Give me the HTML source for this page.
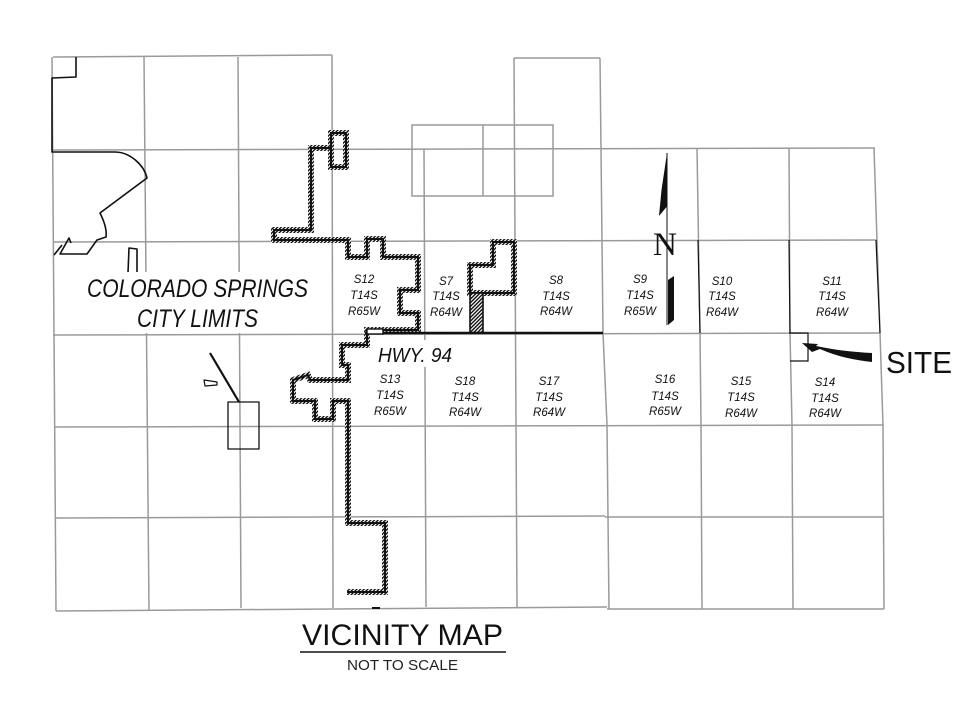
<!DOCTYPE html>
<html><head><meta charset="utf-8"><style>
html,body{margin:0;padding:0;background:#fff;}
svg{display:block;}
text{font-family:"Liberation Sans",sans-serif;}
.s{font-style:italic;font-size:11.5px;fill:#111;text-anchor:middle;}
</style></head><body>
<svg width="973" height="716" viewBox="0 0 973 716" xmlns="http://www.w3.org/2000/svg">
<defs>
<pattern id="h" width="2.6" height="2.6" patternUnits="userSpaceOnUse" patternTransform="rotate(45)">
<rect width="2.6" height="2.6" fill="#fff"/><line x1="0.7" y1="0" x2="0.7" y2="2.6" stroke="#111" stroke-width="1.4"/>
</pattern>
</defs>
<rect width="973" height="716" fill="#fff"/>
<g fill="none" stroke="#9a9a9a" stroke-width="1.5">
<line x1="53" y1="57" x2="332" y2="55"/>
<line x1="514" y1="58" x2="600" y2="58"/>
<line x1="52" y1="150" x2="875" y2="148"/>
<line x1="53" y1="242" x2="877" y2="240"/>
<line x1="53" y1="335" x2="880" y2="333"/>
<line x1="54" y1="427" x2="883" y2="425"/>
<line x1="55" y1="518" x2="605" y2="516"/>
<line x1="605" y1="517" x2="883" y2="517"/>
<line x1="56" y1="611" x2="607" y2="607"/>
<line x1="607" y1="609" x2="884" y2="609"/>
<line x1="52" y1="57" x2="56" y2="611"/>
<line x1="144" y1="57" x2="149" y2="610"/>
<line x1="238" y1="57" x2="241" y2="608"/>
<line x1="332" y1="55" x2="333" y2="608"/>
<line x1="424" y1="149" x2="426" y2="607"/>
<line x1="514" y1="58" x2="517" y2="607"/>
<polyline points="600,58 603,333 607,425 609,609"/>
<polyline points="697,148 700,333 701,425 702,609"/>
<polyline points="789,148 790,333 792,425 793,609"/>
<polyline points="874,148 880,333 883,425 884,609"/>
<rect x="412" y="125" width="141" height="71"/>
<line x1="483" y1="125" x2="483" y2="196"/>
</g>
<g stroke="#111" stroke-width="1.2" fill="none">
<line x1="698" y1="240" x2="700" y2="333"/>
<line x1="789" y1="240" x2="790" y2="333"/>
<line x1="876" y1="240" x2="880" y2="333"/>
<polyline points="789,333 808,333 808,361 790,361"/>
</g>
<g stroke="#111" stroke-width="1.6" fill="none" stroke-linejoin="round">
<polyline points="76,57 76,77 52,78 52,152 115,152"/>
<path d="M115,152 C130,152 144,165 147,178 L100,213 C104,221 107,230 106,237 L97,240 L87,254 L60,254 L69,238 L71,243"/>
<line x1="54" y1="255" x2="62" y2="245"/>
<polyline points="128,273 129,248 137,249 137,273"/>
<line x1="210" y1="353" x2="239" y2="402" stroke-width="2.2"/>
<polygon points="204,380 217,382 217,385 205,386" stroke-width="1.2"/>
<rect x="228" y="402" width="31" height="47" stroke-width="1.3"/>
<line x1="372" y1="608" x2="380" y2="608" stroke-width="2"/>
</g>
<g fill="none" stroke-linejoin="miter">
<path d="M331,148 L331,133 L346,133 L346,167 L331,167 L331,148 L311,148 L311,230 L274,230 L274,240 L348,240 L348,257 L367,257 L367,239 L383,239 L383,257 L418,257 L418,290 L400,290 L400,313 L418,313 L418,330 L367,330 L367,345 L342,345 L342,365 L348,365 L348,380 L310,380 L308,375 L293,380 L293,401 L315,401 L315,419 L333,419 L333,401 L348,401 L348,523 L385,523 L385,592 L347,592" stroke="url(#h)" stroke-width="6"/>
<path d="M331,148 L331,133 L346,133 L346,167 L331,167 L331,148 L311,148 L311,230 L274,230 L274,240 L348,240 L348,257 L367,257 L367,239 L383,239 L383,257 L418,257 L418,290 L400,290 L400,313 L418,313 L418,330 L367,330 L367,345 L342,345 L342,365 L348,365 L348,380 L310,380 L308,375 L293,380 L293,401 L315,401 L315,419 L333,419 L333,401 L348,401 L348,523 L385,523 L385,592 L347,592" stroke="#111" stroke-width="2"/>
<polygon points="493,242 514,242 514,293 470,293 470,265 493,265" stroke="url(#h)" stroke-width="6"/>
<polygon points="493,242 514,242 514,293 470,293 470,265 493,265" stroke="#111" stroke-width="2"/>
<rect x="470" y="293" width="13" height="40" fill="url(#h)" stroke="#111" stroke-width="1.6"/>
</g>
<line x1="365" y1="333" x2="603" y2="333" stroke="#111" stroke-width="2.6"/>
<rect x="367" y="329" width="16" height="5" fill="#fff" stroke="#111" stroke-width="1.4"/>
<line x1="667" y1="153" x2="667" y2="325" stroke="#111" stroke-width="1"/>
<polygon points="667,153 666.5,207 659,216 661.5,190" fill="#111"/>
<polygon points="668,280 674,276 674,320 668,325" fill="#111"/>
<text x="653" y="255" style="font-family:'Liberation Serif',serif" font-size="33" textLength="24" lengthAdjust="spacingAndGlyphs" fill="#111">N</text>
<path d="M872,353 L872,362 C855,360 838,357 820,349 L812,352 L802,343 L818,344 L816,346 C835,350 852,352 872,353 Z" fill="#111"/>
<rect x="84" y="272" width="228" height="61" fill="#fff"/>
<rect x="374" y="340" width="82" height="27" fill="#fff"/>
<text x="87" y="297" font-size="25" font-style="italic" textLength="221" lengthAdjust="spacingAndGlyphs" fill="#111">COLORADO SPRINGS</text>
<text x="137" y="327" font-size="25" font-style="italic" textLength="121" lengthAdjust="spacingAndGlyphs" fill="#111">CITY LIMITS</text>
<text x="378" y="362" font-size="20" font-style="italic" textLength="74" lengthAdjust="spacingAndGlyphs" fill="#111">HWY. 94</text>
<text x="886" y="373" font-size="31" textLength="66" lengthAdjust="spacingAndGlyphs" fill="#111">SITE</text>
<text x="302" y="645" font-size="30" textLength="201" lengthAdjust="spacingAndGlyphs" fill="#111">VICINITY MAP</text>
<line x1="300" y1="652" x2="506" y2="652" stroke="#111" stroke-width="1.5"/>
<text x="347" y="670" font-size="15" textLength="111" lengthAdjust="spacingAndGlyphs" fill="#222">NOT TO SCALE</text>
<g>
<text class="s" x="364" y="283">S12</text><text class="s" x="364" y="299">T14S</text><text class="s" x="364" y="315">R65W</text>
<text class="s" x="446" y="285">S7</text><text class="s" x="446" y="300">T14S</text><text class="s" x="446" y="316">R64W</text>
<text class="s" x="556" y="284">S8</text><text class="s" x="556" y="300">T14S</text><text class="s" x="556" y="315">R64W</text>
<text class="s" x="640" y="283">S9</text><text class="s" x="640" y="299">T14S</text><text class="s" x="640" y="315">R65W</text>
<text class="s" x="722" y="285">S10</text><text class="s" x="722" y="300">T14S</text><text class="s" x="722" y="316">R64W</text>
<text class="s" x="832" y="285">S11</text><text class="s" x="832" y="300">T14S</text><text class="s" x="832" y="316">R64W</text>
<text class="s" x="390" y="383">S13</text><text class="s" x="390" y="399">T14S</text><text class="s" x="390" y="415">R65W</text>
<text class="s" x="465" y="385">S18</text><text class="s" x="465" y="401">T14S</text><text class="s" x="465" y="416">R64W</text>
<text class="s" x="549" y="385">S17</text><text class="s" x="549" y="401">T14S</text><text class="s" x="549" y="416">R64W</text>
<text class="s" x="665" y="383">S16</text><text class="s" x="665" y="400">T14S</text><text class="s" x="665" y="415">R65W</text>
<text class="s" x="741" y="385">S15</text><text class="s" x="741" y="401">T14S</text><text class="s" x="741" y="417">R64W</text>
<text class="s" x="825" y="386">S14</text><text class="s" x="825" y="402">T14S</text><text class="s" x="825" y="417">R64W</text>
</g>
</svg>
</body></html>
